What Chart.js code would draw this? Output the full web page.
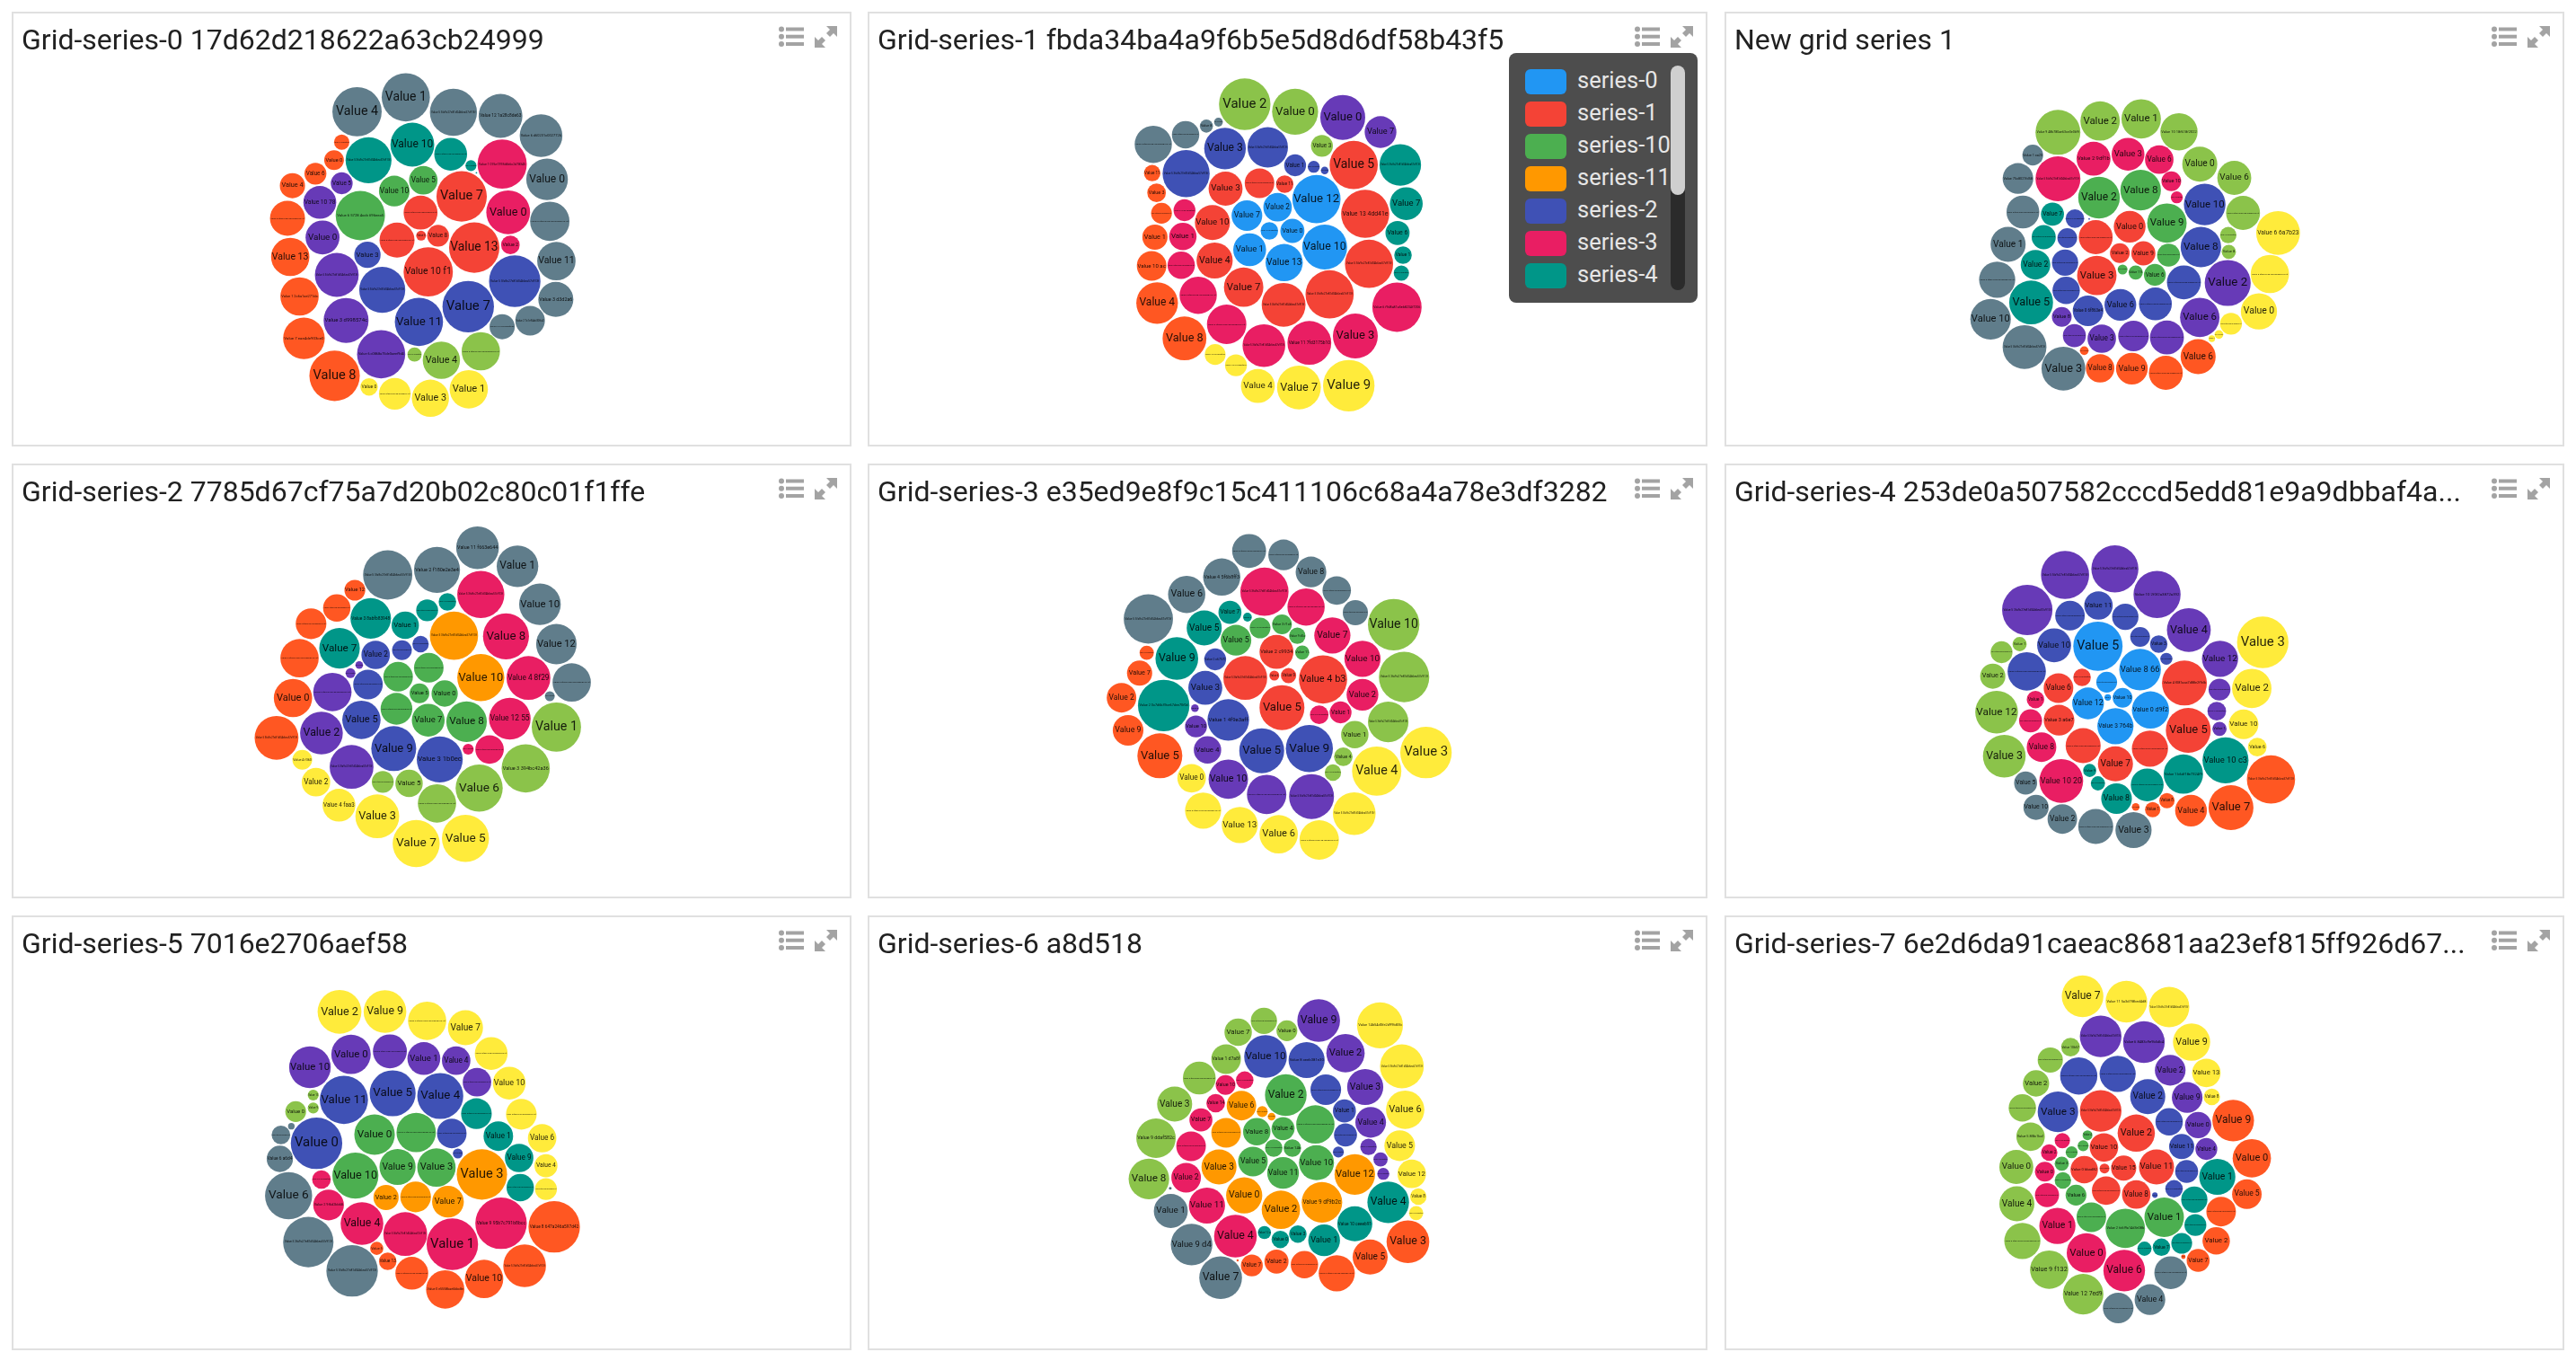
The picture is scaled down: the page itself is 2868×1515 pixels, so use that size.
<!DOCTYPE html>
<html>
<head>
<meta charset="utf-8">
<title>Grid series</title>
<script src="https://cdn.jsdelivr.net/npm/chart.js@4/dist/chart.umd.js"></script>
<style>
  html, body { margin: 0; padding: 0; background: #fff; font-family: Roboto, sans-serif; }
  body { position: relative; width: 2868px; height: 1515px; overflow: hidden; }
  .card { position: absolute; width: 935px; height: 484px; box-sizing: border-box; border: 2px solid #e0e0e0; background: #fff; }
  .card canvas { position: absolute; left: -2px; top: -2px; }
  .title { position: absolute; left: 9px; top: 9px; font-size: 32px; line-height: 40px; color: #212121; white-space: nowrap; }
  .icons { position: absolute; left: 852px; top: 14px; }
  .legend { position: absolute; left: 1680px; top: 59px; width: 210px; height: 278px; background: #4d4d4d; border-radius: 8px; overflow: hidden; }
  .legend .row { position: absolute; left: 18px; height: 28px; }
  .legend .swatch { position: absolute; left: 0; top: 0; width: 46px; height: 28px; border-radius: 6px; }
  .legend .name { position: absolute; left: 58px; top: -5px; font-size: 25.5px; line-height: 34px; color: #e6e6e6; white-space: nowrap; }
  .legend .track { position: absolute; left: 180px; top: 14px; width: 16px; height: 250px; background: #2b2b2b; border-radius: 8px; }
  .legend .thumb { position: absolute; left: 0; top: 0; width: 16px; height: 144px; background: #cfcfcf; border-radius: 8px; }
</style>
</head>
<body>
<script>
// On a 1568 x 1515 grid per tile: [x, y, size, label].
const LONG = 'Value 5 3fa9c27e81d04b6ea57c913f';
const MID = 'Value 2 7c1e94ab30f6d2';

const TITLES = [
  'Grid-series-0 17d62d218622a63cb24999',
  'Grid-series-1 fbda34ba4a9f6b5e5d8d6df58b43f5',
  'New grid series 1',
  'Grid-series-2 7785d67cf75a7d20b02c80c01f1ffe',
  'Grid-series-3 e35ed9e8f9c15c411106c68a4a78e3df3282',
  'Grid-series-4 253de0a507582cccd5edd81e9a9dbbaf4a...',
  'Grid-series-5 7016e2706aef58',
  'Grid-series-6 a8d518',
  'Grid-series-7 6e2d6da91caeac8681aa23ef815ff926d67...'
];

const LEGEND_LABELS = ['series-0', 'series-1', 'series-10', 'series-11', 'series-2', 'series-3', 'series-4'];

const SERIES_COLORS = {
  'series-0': '#2196F3', 'series-1': '#F44336', 'series-10': '#4CAF50', 'series-11': '#FF9800',
  'series-2': '#3F51B5', 'series-3': '#E91E63', 'series-4': '#009688', 'series-5': '#673AB7',
  'series-6': '#8BC34A', 'series-7': '#FFEB3B', 'series-8': '#FF5722', 'series-9': '#607D8B'
};

// Grid-series-0
const g0_s9 = [[652,373,45,'Value 4'],[741,325,44,'Value 1'],[828,375,43,LONG],[914,387,40,'Value 12 1a28c8de63'],[988,453,39,'Value 6 d60231c0027726'],[999,599,38,'Value 0'],[1004,739,36,LONG],[1016,872,35,'Value 11'],[1015,1000,32,'Value 3 d3d2a6'],[968,1071,27,MID],[917,1091,23,MID]];
const g0_s4 = [[673,535,42,LONG],[753,483,40,'Value 10'],[823,515,30,LONG],[860,553,10,MID],[870,577,1.5,'Value 1']];
const g0_s3 = [[917,548,45,'Value 1 076e7393d6b6c2d78345'],[928,709,40,'Value 0'],[932,818,17,'Value 2']];
const g0_s1 = [[843,656,46,'Value 7'],[768,710,31,LONG],[866,827,46,'Value 13'],[725,802,32,LONG],[769,787,9,'Value 5'],[800,787,20,'Value 8'],[782,908,45,'Value 10 f1']];
const g0_s10 = [[658,720,45,'Value 6 5728 4ccb 696eea5'],[720,638,28,'Value 10'],[773,602,26,'Value 5']];
const g0_s5 = [[624,612,20,'Value 5'],[584,676,30,'Value 10 78'],[589,793,31,'Value 0'],[615,918,40,LONG],[632,1070,41,'Value 3 d998574c'],[696,1183,44,'Value 6 c0868a75de0aeef9d4']];
const g0_s2 = [[671,851,24,'Value 3'],[698,968,42,LONG],[765,1075,44,'Value 11'],[855,1024,47,'Value 7'],[940,939,47,LONG]];
const g0_s8 = [[624,475,14,MID],[610,535,18,'Value 0'],[576,580,20,'Value 6'],[534,620,23,'Value 4'],[525,729,32,LONG],[530,858,35,'Value 13'],[547,990,35,'Value 1 2c6a1ae271da'],[555,1130,38,'Value 7 eae4de903ce0'],[611,1255,46,'Value 8']];
const g0_s6 = [[878,1173,35,LONG],[806,1203,34,'Value 4'],[757,1184,13,MID]];
const g0_s7 = [[856,1300,35,'Value 1'],[786,1330,34,'Value 3'],[721,1315,29,LONG],[674,1292,16,'Value 0']];

// Grid-series-1
const g1_s6 = [[705,348,47,'Value 2'],[797,373,42,'Value 0'],[846,487,20,'Value 3']];
const g1_s5 = [[884,392,41,'Value 0'],[953,441,29,'Value 7']];
const g1_s9 = [[538,482,34,LONG],[597,450,25,LONG],[635,421,12,'Value 8'],[657,408,8,MID]];
const g1_s2 = [[669,496,38,'Value 3'],[747,492,37,LONG],[797,552,20,'Value 1'],[831,557,11,MID],[851,569,7,MID],[598,580,43,LONG]];
const g1_s1 = [[904,551,44,'Value 5'],[670,630,31,'Value 3'],[732,612,27,LONG],[778,615,16,'Value 11'],[925,714,44,'Value 13 4dd41e'],[646,743,32,'Value 10'],[650,870,33,'Value 4'],[932,881,44,LONG],[703,959,36,'Value 7'],[776,1018,40,LONG],[860,983,44,LONG]];
const g1_s4 = [[989,551,38,LONG],[1000,680,30,'Value 7'],[984,778,22,'Value 6'],[994,852,16,'Value 1'],[991,912,14,MID]];
const g1_s0 = [[836,665,44,'Value 12'],[765,692,26,'Value 2'],[709,720,28,'Value 7'],[750,771,16,MID],[792,771,22,'Value 0'],[851,825,41,'Value 10'],[714,834,30,'Value 1'],[777,877,34,'Value 13']];
const g1_s8 = [[536,578,15,'Value 11'],[544,644,17,'Value 3'],[553,712,19,LONG],[541,792,23,'Value 1'],[535,888,27,'Value 10 ac'],[545,1012,38,'Value 4'],[595,1130,40,'Value 8']];
const g1_s3 = [[595,702,20,MID],[592,790,25,'Value 1'],[589,886,25,LONG],[620,986,34,LONG],[672,1083,36,LONG],[740,1154,39,LONG],[823,1145,40,'Value 11 7fd3175b10'],[907,1122,41,'Value 3'],[983,1026,45,'Value 6 f9d8a81a5eb8234f7206']];
const g1_s7 = [[651,1184,19,MID],[689,1220,20,MID],[729,1289,31,'Value 4'],[804,1294,40,'Value 7'],[895,1288,47,'Value 9']];

// New grid series 1
const g2_s6 = [[622,442,41,'Value 9 48b780ae63ce3e0b9f'],[699,404,36,'Value 2'],[774,397,36,'Value 1'],[843,440,34,'Value 10 18f618f2022'],[881,548,32,'Value 0'],[944,594,31,'Value 6'],[960,711,31,LONG],[933,785,15,MID],[934,841,13,'Value 8']];
const g2_s3 = [[687,530,31,'Value 2 9df1b'],[750,515,30,'Value 3'],[807,533,26,'Value 6'],[829,605,18,'Value 10'],[839,659,11,MID],[622,597,41,LONG]];
const g2_s9 = [[576,518,19,'Value 1 ca20'],[549,596,28,'Value 75c8027fd58'],[558,708,30,LONG],[531,816,32,'Value 1'],[511,934,33,LONG],[499,1066,37,'Value 10'],[561,1159,40,LONG],[632,1231,40,'Value 3']];
const g2_s10 = [[697,660,38,'Value 2'],[773,635,37,'Value 8'],[821,745,36,'Value 9'],[824,852,21,LONG],[799,918,20,'Value 6'],[764,910,13,'Value 11f'],[740,900,9,MID]];
const g2_s2 = [[890,683,38,'Value 10'],[883,825,37,'Value 8'],[653,730,17,MID],[639,795,18,LONG],[635,877,24,LONG],[637,970,25,LONG],[677,1038,28,'Value 0 6f863e4'],[736,1018,29,'Value 6'],[800,1015,30,LONG],[852,943,31,LONG],[679,731,1.5,'Value 1']];
const g2_s4 = [[612,715,21,'Value 7'],[596,792,22,LONG],[581,884,27,'Value 2'],[573,1010,40,'Value 5']];
const g2_s1 = [[753,757,29,'Value 0'],[691,792,31,LONG],[735,845,18,'Value 2'],[778,846,22,'Value 9'],[693,920,36,'Value 3']];
const g2_s5 = [[932,945,42,'Value 2'],[881,1060,36,'Value 6'],[629,1058,18,'Value 8'],[652,1121,21,LONG],[702,1131,26,'Value 3'],[760,1122,28,LONG],[821,1127,31,LONG]];
const g2_s7 = [[1024,778,40,'Value 6 6a7b23'],[1009,915,35,LONG],[989,1040,33,'Value 0'],[938,1081,20,LONG],[916,1117,8,MID],[903,1131,6,'Value 4']];
const g2_s8 = [[878,1191,32,'Value 6'],[819,1245,31,LONG],[757,1231,29,'Value 9'],[699,1230,26,'Value 8'],[670,1171,8,MID]];

// Grid-series-2
const g3_s9 = [[708,405,45,LONG],[798,388,42,'Value 2 f180e2e3e4'],[872,314,39,'Value 11 f663e644'],[945,376,38,'Value 1'],[986,503,38,'Value 10'],[1016,636,37,'Value 12'],[1044,764,35,LONG],[1004,810,9,MID]];
const g3_s3 = [[878,470,43,LONG],[924,610,42,'Value 8'],[965,749,40,'Value 4 8f29'],[931,885,38,'Value 12 55'],[894,988,26,LONG],[855,987,10,MID]];
const g3_s8 = [[648,456,19,'Value 12'],[615,515,25,LONG],[568,568,28,LONG],[547,683,35,LONG],[535,816,35,'Value 0'],[505,949,40,LONG]];
const g3_s4 = [[817,495,16,MID],[780,523,20,LONG],[740,573,25,'Value 1'],[677,550,37,'Value 3 8abfb83948'],[620,650,37,'Value 7']];
const g3_s11 = [[829,608,44,LONG],[878,748,43,'Value 10']];
const g3_s2 = [[768,636,15,MID],[734,656,18,LONG],[686,672,26,'Value 2'],[672,771,27,LONG],[660,889,35,'Value 5'],[719,985,41,'Value 9'],[803,1021,42,'Value 3 1b0ec']];
const g3_s10 = [[783,715,27,LONG],[727,745,27,LONG],[766,800,18,'Value 5'],[812,801,24,'Value 0'],[724,852,29,LONG],[782,890,30,'Value 7'],[852,895,37,'Value 8']];
const g3_s5 = [[656,706,7,MID],[640,733,9,MID],[607,796,35,LONG],[587,933,39,'Value 2'],[642,1046,40,LONG]];
const g3_s6 = [[1016,913,45,'Value 1'],[960,1051,44,'Value 3 394bc42a36'],[875,1117,43,'Value 6'],[798,1168,35,LONG],[699,1096,20,LONG],[747,1101,25,'Value 5']];
const g3_s7 = [[552,1022,18,'Value 4 f360'],[577,1097,26,'Value 2'],[619,1174,30,'Value 4 faa3'],[689,1211,40,'Value 3'],[760,1302,43,'Value 7'],[850,1285,43,'Value 5']];

// Grid-series-3
const g4_s9 = [[713,325,31,LONG],[776,338,28,LONG],[826,395,28,'Value 8'],[873,457,26,LONG],[907,531,23,LONG],[663,412,34,'Value 4 5f6b8ff3'],[599,470,34,'Value 6'],[529,552,45,LONG]];
const g4_s3 = [[741,461,44,LONG],[817,512,34,LONG],[865,607,33,'Value 7'],[920,685,33,'Value 10'],[920,805,29,'Value 2'],[880,864,20,'Value 1'],[841,872,17,MID]];
const g4_s6 = [[977,571,47,'Value 10'],[996,746,46,LONG],[967,896,37,LONG],[906,938,25,'Value 1'],[885,1012,17,'Value 4'],[866,1065,15,MID]];
const g4_s4 = [[678,530,21,'Value 7'],[710,546,8,'Value 3'],[631,582,32,'Value 5'],[581,684,39,'Value 9'],[557,841,47,'Value 2 0c7d6b39ce67dee70f0d']];
const g4_s10 = [[733,582,19,MID],[773,570,18,'Value 3 f1c5'],[801,608,15,'Value 9 d0a'],[689,623,28,'Value 5'],[810,664,13,'Value 11']];
const g4_s1 = [[763,662,31,'Value 2 c9934'],[706,749,40,LONG],[759,741,9,'Value 6'],[785,741,14,'Value 9'],[848,754,44,'Value 4 b3'],[773,848,41,'Value 5']];
const g4_s2 = [[651,687,20,'Value 2 c67570'],[633,782,31,'Value 3'],[675,889,38,'Value 1 4f9e3aff'],[736,992,41,'Value 5'],[823,985,43,'Value 9']];
const g4_s8 = [[526,665,13,MID],[513,733,23,'Value 7'],[480,815,27,'Value 2'],[492,924,28,'Value 9'],[550,1009,41,'Value 5']];
const g4_s5 = [[614,850,7,'Value 8'],[616,911,20,'Value 10'],[637,989,25,'Value 4'],[675,1087,36,'Value 10'],[745,1138,36,LONG],[827,1145,41,LONG]];
const g4_s7 = [[1036,998,47,'Value 3'],[946,1060,45,'Value 4'],[608,1084,26,'Value 0'],[629,1192,33,LONG],[696,1240,33,'Value 13'],[767,1271,35,'Value 6'],[905,1202,39,LONG],[841,1290,36,LONG]];

// Grid-series-4
const g5_s5 = [[635,405,44,LONG],[726,385,43,LONG],[803,470,43,'Value 10 2f0f2a3872a392'],[566,522,46,LONG],[861,589,40,'Value 4'],[918,685,33,'Value 12'],[917,788,20,LONG],[912,860,17,MID],[917,919,13,'Value 1']];
const g5_s2 = [[696,507,26,'Value 11'],[644,541,27,LONG],[745,545,24,LONG],[772,612,18,LONG],[806,636,16,'Value 3'],[820,685,11,MID],[615,640,31,'Value 10'],[565,727,35,LONG]];
const g5_s0 = [[695,643,45,'Value 5'],[772,721,38,'Value 8 66'],[711,763,19,LONG],[740,815,18,'Value 10'],[713,814,6,'Value 4'],[677,834,29,'Value 12'],[791,856,34,'Value 0 d9f2'],[727,910,33,'Value 3 764b']];
const g5_s6 = [[552,636,13,'Value 1'],[519,663,20,LONG],[503,743,23,'Value 2'],[510,863,39,'Value 12'],[524,1010,39,'Value 3']];
const g5_s7 = [[996,630,47,'Value 3'],[976,784,36,'Value 2'],[961,904,27,'Value 10'],[986,980,17,'Value 6']];
const g5_s1 = [[666,747,16,MID],[623,783,27,'Value 6'],[853,766,41,'Value 4 f081aaa7d88e2f9db'],[624,890,28,'Value 3 a6e7'],[860,924,41,'Value 5'],[668,975,32,LONG],[790,985,33,LONG],[727,1036,32,'Value 7']];
const g5_s3 = [[581,821,16,'Value 1'],[572,892,21,LONG],[592,980,27,'Value 8'],[628,1093,40,'Value 10 20']];
const g5_s4 = [[928,1024,42,'Value 10 c3'],[851,1070,36,'Value 1 b6df18e7324f9'],[785,1106,30,LONG],[729,1152,28,'Value 8'],[680,1058,12,'Value 9'],[695,1101,13,MID]];
const g5_s8 = [[1011,1088,44,LONG],[938,1182,41,'Value 7'],[865,1192,29,'Value 4'],[821,1159,14,'Value 8'],[795,1189,14,'Value 1'],[764,1180,7,MID]];
const g5_s9 = [[563,1100,21,'Value 5'],[582,1181,23,'Value 10'],[630,1220,27,'Value 2'],[691,1245,32,LONG],[760,1257,33,'Value 3']];

// Grid-series-5
const g6_s7 = [[620,349,40,'Value 2'],[703,348,39,'Value 9'],[780,379,35,LONG],[850,402,32,'Value 7'],[897,488,30,LONG],[930,587,30,'Value 10'],[952,691,28,LONG],[990,771,26,'Value 6'],[997,863,21,'Value 4'],[997,941,20,LONG]];
const g6_s5 = [[566,534,38,'Value 10'],[641,491,36,'Value 0'],[712,481,31,LONG],[774,505,30,'Value 1'],[833,512,26,'Value 4'],[871,584,26,LONG]];
const g6_s2 = [[628,643,44,'Value 11'],[717,621,42,'Value 5'],[804,630,42,'Value 4'],[825,755,27,LONG],[836,822,9,MID],[578,788,47,'Value 0']];
const g6_s4 = [[870,689,28,LONG],[910,764,27,'Value 1'],[948,837,26,'Value 9'],[950,936,25,LONG]];
const g6_s6 = [[572,627,10,'Value 13'],[572,670,10,'Value 9'],[540,682,19,'Value 0']];
const g6_s9 = [[532,731,6,MID],[513,760,17,LONG],[511,840,24,'Value 6 a6d4'],[527,963,43,'Value 6'],[563,1118,46,LONG],[643,1214,47,LONG]];
const g6_s10 = [[684,759,37,'Value 0'],[760,752,36,LONG],[726,867,33,'Value 9'],[797,869,35,'Value 3'],[649,896,42,'Value 10']];
const g6_s11 = [[880,892,46,'Value 3'],[705,969,23,'Value 2'],[759,967,28,LONG],[818,983,29,'Value 7']];
const g6_s3 = [[587,909,17,MID],[600,994,28,'Value 2 9f6d2bb68'],[661,1056,39,'Value 4'],[740,1091,40,LONG],[826,1125,47,'Value 1'],[915,1055,47,'Value 9 95b7c791b8bcc']];
const g6_s8 = [[1012,1067,47,'Value 8 647a246a597d42'],[958,1197,39,LONG],[884,1241,35,'Value 10'],[813,1276,35,'Value 0 e5558bae6bbc8e'],[752,1222,30,LONG],[708,1182,16,'Value 13'],[688,1139,12,'Value 5']];

// Grid-series-6
const g7_s6 = [[740,379,24,LONG],[693,417,25,'Value 7'],[782,412,19,'Value 0'],[671,507,27,'Value 1 d7a8f'],[622,570,30,LONG],[577,657,32,'Value 3'],[543,771,36,'Value 9 ddaf582c'],[530,907,37,'Value 8']];
const g7_s5 = [[840,378,39,'Value 9'],[889,487,35,'Value 2'],[925,600,33,'Value 3'],[935,718,28,'Value 4'],[931,800,15,MID],[953,842,13,MID],[958,890,11,MID]];
const g7_s7 = [[952,394,42,'Value 14b54d0fe2d99b83b'],[992,531,40,LONG],[998,676,35,'Value 6'],[988,796,28,'Value 5'],[1010,890,26,'Value 12'],[1022,966,15,'Value 8'],[1018,1021,13,MID]];
const g7_s2 = [[743,498,39,'Value 10'],[818,510,33,'Value 8 ceeb381e30'],[853,609,28,LONG],[887,680,21,'Value 1'],[889,760,21,LONG],[876,817,10,MID]];
const g7_s3 = [[705,577,16,MID],[670,593,18,'Value 10'],[652,654,17,'Value 14'],[625,710,21,'Value 7'],[607,798,27,LONG],[598,903,27,'Value 2'],[636,996,33,'Value 11'],[688,1098,39,'Value 4']];
const g7_s11 = [[699,662,27,'Value 6'],[737,682,10,MID],[754,699,7,MID],[671,753,27,LONG],[658,867,32,'Value 3'],[704,962,33,'Value 0'],[771,1010,35,'Value 2'],[846,985,37,'Value 9 df9b2c'],[906,892,37,'Value 12']];
const g7_s10 = [[780,627,38,'Value 2'],[834,725,35,LONG],[727,749,25,'Value 8'],[775,739,21,'Value 4'],[758,804,16,MID],[792,804,16,'Value 14b'],[720,849,27,'Value 5'],[775,887,29,'Value 11'],[836,853,32,'Value 10']];
const g7_s4 = [[967,985,38,'Value 4'],[906,1057,32,'Value 10 ceeeb91'],[850,1112,29,'Value 1'],[741,1086,12,'Value 12 a'],[770,1109,16,'Value 0'],[802,1091,16,'Value 3']];
const g7_s8 = [[1003,1117,39,'Value 3'],[934,1168,32,'Value 5'],[873,1222,33,LONG],[814,1193,25,LONG],[763,1183,22,'Value 2'],[718,1196,20,'Value 7'],[692,1179,2,'Value 9']];
const g7_s9 = [[570,1014,31,'Value 1'],[608,1126,38,'Value 9 d4'],[661,1237,39,'Value 7'],[569,938,2.5,'Value 4']];

// Grid-series-7
const g8_s7 = [[667,297,38,'Value 7'],[747,315,38,'Value 11 5a3d7f8bed4d8'],[825,333,37,LONG],[866,450,34,'Value 9'],[893,553,26,'Value 13'],[903,633,15,'Value 8']];
const g8_s5 = [[700,431,38,LONG],[779,450,38,'Value 6 8483c9e9b5db4'],[827,544,28,'Value 2'],[858,635,28,'Value 9'],[878,727,24,'Value 0'],[893,807,20,'Value 4']];
const g8_s6 = [[645,467,17,'Value 10b57'],[608,510,23,LONG],[582,588,24,'Value 2'],[557,670,25,LONG],[572,766,26,'Value 5 8f8c1ba1'],[546,867,31,'Value 0'],[547,990,32,'Value 4'],[557,1114,33,LONG],[606,1210,35,'Value 9 f132'],[668,1292,37,'Value 12 7ed9']];
const g8_s2 = [[660,563,34,LONG],[731,556,33,LONG],[786,632,32,'Value 2'],[622,683,37,'Value 3'],[825,716,25,LONG],[848,799,23,'Value 11'],[857,882,21,LONG],[834,940,16,MID],[799,961,5,'Value 6']];
const g8_s1 = [[700,680,38,LONG],[765,754,34,'Value 2'],[706,802,26,'Value 10'],[670,876,25,'Value 0 bbad82'],[707,872,9,MID],[742,871,23,'Value 15'],[802,867,32,'Value 11'],[710,946,26,LONG],[765,959,26,'Value 8']];
const g8_s3 = [[630,779,14,MID],[606,819,15,'Value 2'],[598,883,18,'Value 0'],[602,961,22,LONG],[621,1064,33,'Value 1'],[674,1154,36,'Value 0'],[743,1213,38,'Value 6']];
const g8_s10 = [[676,761,9,'Value 4'],[668,796,10,MID],[647,818,11,MID],[629,856,13,'Value 3'],[631,912,15,MID],[655,961,19,'Value 6'],[683,1035,27,LONG],[745,1072,36,'Value 2 fc6f9a14d3e08b'],[816,1035,36,'Value 1']];
const g8_s8 = [[942,712,38,'Value 9'],[976,838,35,'Value 0'],[967,958,27,'Value 5'],[920,1016,27,LONG],[911,1114,25,'Value 2'],[878,1179,21,'Value 7'],[851,1167,4,'Value 1']];
const g8_s4 = [[913,900,33,'Value 1'],[871,976,24,LONG],[873,1061,20,LONG],[848,1122,19,LONG],[811,1135,16,'Value 7'],[780,1140,13,MID]];
const g8_s9 = [[828,1220,30,LONG],[790,1310,28,'Value 4'],[732,1338,28,LONG]];

const PANEL_SERIES = [
  { 'series-1': g0_s1, 'series-10': g0_s10, 'series-2': g0_s2, 'series-3': g0_s3, 'series-4': g0_s4, 'series-5': g0_s5, 'series-6': g0_s6, 'series-7': g0_s7, 'series-8': g0_s8, 'series-9': g0_s9 },
  { 'series-0': g1_s0, 'series-1': g1_s1, 'series-2': g1_s2, 'series-3': g1_s3, 'series-4': g1_s4, 'series-5': g1_s5, 'series-6': g1_s6, 'series-7': g1_s7, 'series-8': g1_s8, 'series-9': g1_s9 },
  { 'series-1': g2_s1, 'series-10': g2_s10, 'series-2': g2_s2, 'series-3': g2_s3, 'series-4': g2_s4, 'series-5': g2_s5, 'series-6': g2_s6, 'series-7': g2_s7, 'series-8': g2_s8, 'series-9': g2_s9 },
  { 'series-10': g3_s10, 'series-11': g3_s11, 'series-2': g3_s2, 'series-3': g3_s3, 'series-4': g3_s4, 'series-5': g3_s5, 'series-6': g3_s6, 'series-7': g3_s7, 'series-8': g3_s8, 'series-9': g3_s9 },
  { 'series-1': g4_s1, 'series-10': g4_s10, 'series-2': g4_s2, 'series-3': g4_s3, 'series-4': g4_s4, 'series-5': g4_s5, 'series-6': g4_s6, 'series-7': g4_s7, 'series-8': g4_s8, 'series-9': g4_s9 },
  { 'series-0': g5_s0, 'series-1': g5_s1, 'series-2': g5_s2, 'series-3': g5_s3, 'series-4': g5_s4, 'series-5': g5_s5, 'series-6': g5_s6, 'series-7': g5_s7, 'series-8': g5_s8, 'series-9': g5_s9 },
  { 'series-10': g6_s10, 'series-11': g6_s11, 'series-2': g6_s2, 'series-3': g6_s3, 'series-4': g6_s4, 'series-5': g6_s5, 'series-6': g6_s6, 'series-7': g6_s7, 'series-8': g6_s8, 'series-9': g6_s9 },
  { 'series-10': g7_s10, 'series-11': g7_s11, 'series-2': g7_s2, 'series-3': g7_s3, 'series-4': g7_s4, 'series-5': g7_s5, 'series-6': g7_s6, 'series-7': g7_s7, 'series-8': g7_s8, 'series-9': g7_s9 },
  { 'series-1': g8_s1, 'series-10': g8_s10, 'series-2': g8_s2, 'series-3': g8_s3, 'series-4': g8_s4, 'series-5': g8_s5, 'series-6': g8_s6, 'series-7': g8_s7, 'series-8': g8_s8, 'series-9': g8_s9 }
];

// Card layout. Tiles are the 956 x 505 windows the values were read from.
const CARD_LEFT = [13, 966, 1920];
const CARD_TOP = [13, 516, 1019];
const CARD_W = 935;
const CARD_H = 484;
const TILE_W = 956;
const TILE_H = 505;
const UX = 1568 / 956; // read units per pixel
const UY = 3;

// Name inside each bubble, shrunk so it fits the diameter.
const bubbleLabels = {
  id: 'bubbleLabels',
  afterDatasetsDraw(chart) {
    const ctx = chart.ctx;
    ctx.save();
    ctx.textAlign = 'center';
    ctx.textBaseline = 'middle';
    ctx.fillStyle = 'rgba(0,0,0,0.85)';
    chart.data.datasets.forEach((ds, i) => {
      chart.getDatasetMeta(i).data.forEach((pt, j) => {
        const d = ds.data[j];
        ctx.font = '100px Roboto';
        const unit = ctx.measureText(d.label).width / 100;
        const size = Math.min(d.r * 0.52, (d.r * 2 * 0.95) / unit);
        ctx.font = size.toFixed(2) + 'px Roboto';
        ctx.fillText(d.label, pt.x, pt.y);
      });
    });
    ctx.restore();
  }
};

const ICONS = '<svg width="70" height="26" viewBox="0 0 70 26">' +
  '<g fill="#a3a3a3"><circle cx="3" cy="3.5" r="3"/><circle cx="3" cy="11.7" r="3"/><circle cx="3" cy="20" r="3"/>' +
  '<rect x="8" y="1.5" width="20" height="4"/><rect x="8" y="9.7" width="20" height="4"/><rect x="8" y="18" width="20" height="4"/>' +
  '<path d="M65 0v12l-4-4-4 4-4-4 4-4-4-4zM40 24v-12l4 4 4-4 4 4-4 4 4 4z"/></g></svg>';

function buildCard(idx) {
  const col = idx % 3, row = Math.floor(idx / 3);
  const left = CARD_LEFT[col], top = CARD_TOP[row];

  const card = document.createElement('div');
  card.className = 'card';
  card.style.left = left + 'px';
  card.style.top = top + 'px';
  card.innerHTML = '<canvas width="' + CARD_W + '" height="' + CARD_H + '"></canvas>' +
    '<div class="title">' + TITLES[idx] + '</div><div class="icons">' + ICONS + '</div>';
  document.body.appendChild(card);

  const canvas = card.querySelector('canvas');
  canvas.style.width = CARD_W + 'px';
  canvas.style.height = CARD_H + 'px';

  const series = PANEL_SERIES[idx];
  const datasets = Object.keys(series).map(name => ({
    label: name,
    data: series[name].map(p => ({ x: p[0], y: p[1], r: p[2] / UX, label: p[3] })),
    backgroundColor: SERIES_COLORS[name],
    borderWidth: 0,
    hoverRadius: 0,
    clip: false
  }));

  const xMin = (left - col * TILE_W) * UX;
  const yMin = (top - row * TILE_H) * UY;

  new Chart(canvas.getContext('2d'), {
    type: 'bubble',
    data: { datasets },
    options: {
      responsive: false,
      animation: false,
      devicePixelRatio: 1,
      layout: { padding: 0, autoPadding: false },
      plugins: { legend: { display: false }, tooltip: { enabled: false } },
      scales: {
        x: { type: 'linear', display: false, min: xMin, max: xMin + CARD_W * UX },
        y: { type: 'linear', display: false, reverse: true, min: yMin, max: yMin + CARD_H * UY }
      }
    },
    plugins: [bubbleLabels]
  });
}

function buildLegend() {
  const box = document.createElement('div');
  box.className = 'legend';
  let html = '';
  LEGEND_LABELS.forEach((name, i) => {
    html += '<div class="row" style="top:' + (18 + i * 36) + 'px">' +
      '<div class="swatch" style="background:' + SERIES_COLORS[name] + '"></div>' +
      '<div class="name">' + name + '</div></div>';
  });
  html += '<div class="track"><div class="thumb"></div></div>';
  box.innerHTML = html;
  document.body.appendChild(box);
}

TITLES.forEach((t, i) => buildCard(i));
buildLegend();
</script>
</body>
</html>
